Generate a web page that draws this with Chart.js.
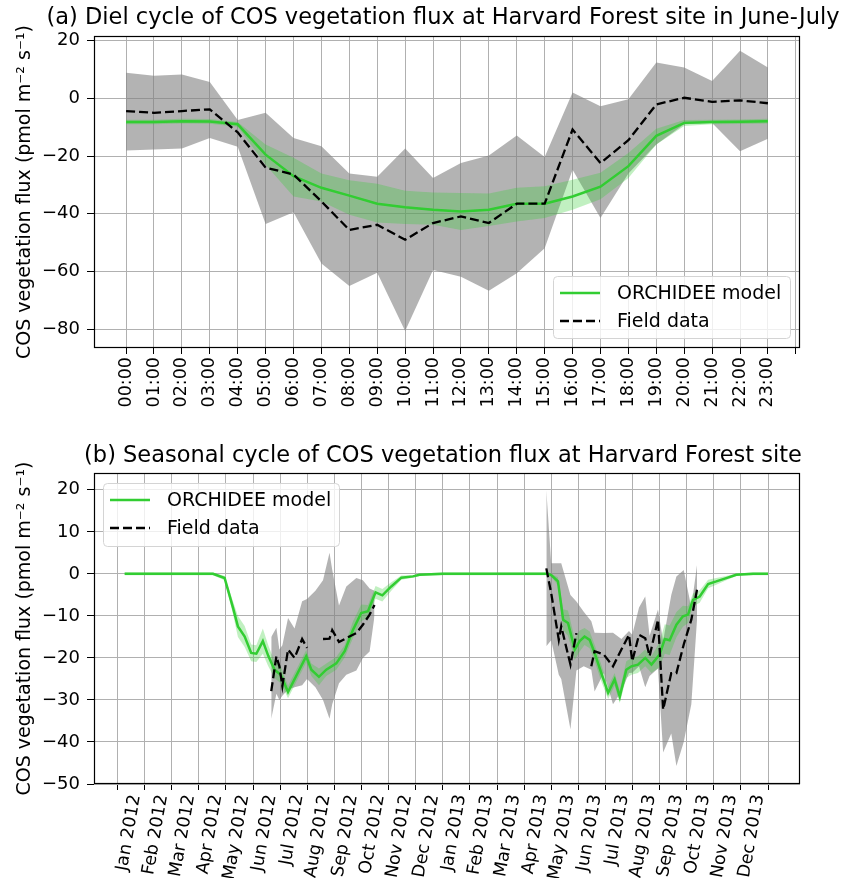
<!DOCTYPE html>
<html>
<head>
<meta charset="utf-8">
<script src="https://cdn.jsdelivr.net/npm/chart.js@4.4.1/dist/chart.umd.min.js"></script>
<style>
  body { margin: 0; background: #fff; }
  #wrap { position: relative; width: 845px; height: 878px; }
  canvas { position: absolute; left: 0; }
</style>
</head>
<body>
<div id="wrap">
  <canvas id="dielChart" width="845" height="430" style="top:0"></canvas>
  <canvas id="seasonChart" width="845" height="448" style="top:430px"></canvas>
</div>
<script>
// (a) diel cycle in June-July, one value per hour
const hours = ["00:00", "01:00", "02:00", "03:00", "04:00", "05:00", "06:00", "07:00",
  "08:00", "09:00", "10:00", "11:00", "12:00", "13:00", "14:00", "15:00",
  "16:00", "17:00", "18:00", "19:00", "20:00", "21:00", "22:00", "23:00"];
const dielModel = [-8.2, -8.2, -7.9, -8.0, -9.0, -19.5, -27, -31, -33.7, -36.5, -37.7, -38.6,
  -39.2, -38.6, -36.5, -36.5, -34, -30.6, -23.5, -13, -8.5, -8.2, -8.1, -7.9];
const dielModelHigh = [-7.4, -7.4, -7.1, -7.2, -8.2, -16, -20.6, -26, -28.4, -29.6, -32, -32.6,
  -32.8, -33, -31, -30.5, -28.2, -25.8, -18.9, -10.5, -7.5, -7.4, -7.3, -7.1];
const dielModelLow = [-9.0, -9.0, -8.7, -8.8, -9.8, -23, -34, -35.7, -40.3, -43, -43.5, -43.8,
  -45.6, -44.2, -42.7, -41.5, -38.6, -35, -27.6, -16, -9.6, -9.0, -8.9, -8.7];
const dielField = [-4.4, -5, -4.4, -3.8, -11.8, -24, -26.4, -35.7, -45.6, -43.8, -49, -43.2,
  -40.9, -43.2, -36.5, -36.5, -10.8, -22.4, -14.5, -2.1, 0.2, -1.2, -0.7, -1.7];
const dielFieldHigh = [8.9, 7.8, 8.3, 5.7, -7.5, -5, -13.7, -16.6, -26, -27.2, -17.4, -27.6,
  -22.4, -19.8, -12.9, -20.3, 2, -2.7, -0.3, 12.4, 10.7, 6, 16.5, 10.7];
const dielFieldLow = [-18.1, -17.7, -17.4, -13.7, -16.8, -43.5, -39.5, -57.2, -65, -60.4, -80.6, -59.5,
  -61.8, -66.7, -60.6, -51.9, -24.7, -41.5, -26, -16, -9, -8.5, -18.3, -14];
const dielTicksY = [20, 0, -20, -40, -60, -80];

// (b) seasonal cycle 2012-2013, x in months counted from Jan 2012
const months = ["Jan 2012", "Feb 2012", "Mar 2012", "Apr 2012", "May 2012", "Jun 2012",
  "Jul 2012", "Aug 2012", "Sep 2012", "Oct 2012", "Nov 2012", "Dec 2012",
  "Jan 2013", "Feb 2013", "Mar 2013", "Apr 2013", "May 2013", "Jun 2013",
  "Jul 2013", "Aug 2013", "Sep 2013", "Oct 2013", "Nov 2013", "Dec 2013"];
const seasonModelX = [0.26, 1, 2, 3, 3.52, 3.95, 4.26, 4.44, 4.69, 4.93, 5.12, 5.36, 5.56, 5.79,
  6.02, 6.29, 6.59, 6.96, 7.15, 7.43, 7.70, 8.07, 8.38, 8.68, 8.99, 9.24, 9.52, 9.77, 10.1,
  10.47, 10.9, 11.14, 12, 13, 14, 15, 15.88, 16.0, 16.25, 16.44, 16.62, 16.87, 17.05, 17.23,
  17.42, 17.6, 17.85, 18.1, 18.34, 18.53, 18.77, 18.96, 19.2, 19.47, 19.7, 20.0, 20.19, 20.37,
  20.62, 20.86, 21.05, 21.23, 21.48, 21.79, 22.09, 22.46, 22.83, 23.45, 24.0];
const seasonModel = [0, 0, 0, 0, 0, -1, -8.1, -12.5, -14.9, -18.8, -19, -16, -19.5, -22.8,
  -24, -28.1, -24.3, -19.6, -22.8, -24.5, -22.8, -21.3, -18.4, -13.4, -9.3, -8.9, -4.4, -5.1, -3.0,
  -0.9, -0.6, -0.2, 0, 0, 0, 0, 0, -0.3, -1.8, -10.9, -11.7, -18, -16, -14.9,
  -15.7, -18.8, -23.6, -28.3, -25.1, -29.2, -22.8, -22, -21.6, -20, -21.6, -19.2, -15.5, -15.8,
  -12.1, -10.1, -9.7, -6.2, -5.4, -2.4, -1.8, -1, -0.2, 0, 0];
const seasonModelSpread = [0.3, 0.3, 0.3, 0.3, 0.3, 0.5, 1.5, 2.5, 2.5, 2, 2, 3, 2.5, 2,
  2, 1.5, 1.5, 1.5, 1.5, 2, 1.5, 1.5, 1.5, 2, 2, 1.5, 1.5, 1.5, 1,
  0.5, 0.3, 0.3, 0.3, 0.3, 0.3, 0.3, 0.3, 0.3, 1, 2.5, 3, 2.5, 2.5, 2,
  2, 2, 2, 1.5, 1.5, 1.5, 2, 2, 2, 2, 2, 3, 3.5, 3.5,
  3, 2.5, 2, 1.5, 1.5, 1, 0.8, 0.5, 0.3, 0.3, 0.3];
const seasonFieldX = [5.67, 5.86, 5.97, 6.08, 6.29, 6.53, 6.81, 6.99, 7.3, 7.58, 7.82, 7.92, 8.17,
  8.44, 8.81, 9.05, 9.30, 9.48, 12.6,
  15.82, 16.0, 16.28, 16.37, 16.71, 16.93, 17.2, 17.48, 17.6, 17.94, 18.28, 18.59, 18.87, 18.99,
  19.24, 19.47, 19.63, 19.94, 20.13, 20.43, 20.62, 20.89, 21.17, 21.38];
const seasonField = [-27.9, -19.6, -22, -26.7, -18, -20, -15.5, -17.6, null, -15.5, -15.4, -13.4, -16.2,
  -15.3, -14.1, -12.1, -9.7, -7.4, null,
  1.3, -4.6, -15.7, -12.5, -21.6, -14.1, null, -22, -18.4, -19.2, -22, -18, -14.5, -20.8,
  -14.5, -15.3, -19.6, -10.9, -32.3, -23.6, -23.6, -16.8, -10.9, -3.8];
const seasonFieldHigh = [-15, -12.8, -18, -17, -10.5, -13, -6.5, -6, -4, -1.5, 5, 1, -7.5,
  -3, -1, -1.5, -3.5, -4, null,
  19.9, 2.5, 2.5, 2.5, -5, -6.6, -9, -11.3, -14, -14.1, -14, -15.5, -13.6, -14.5,
  -8, -5.4, -14.7, -8.5, -16, -5, -0.6, 0.9, -8, 2.1];
const seasonFieldLow = [-34.5, -28.5, -30, -29, -27.5, -27, -26.5, -25, -27, -30, -34.5, -31, -26,
  -24, -23, -20, -18.5, -10, null,
  -17.2, -15.8, -24, -25, -37, -23, -22, -22.8, -28, -23.6, -31, -28, -23.6, -23.5,
  -22, -27, -24.3, -22.5, -42.5, -38, -45.7, -40, -31, -10.9];
const seasonTicksY = [20, 10, 0, -10, -20, -30, -40, -50];

const legendLabels = ["ORCHIDEE model", "Field data"];

const FONT = "'DejaVu Sans', sans-serif";
const GREEN = "#32cd32";
const GREEN_FILL = "rgba(50,205,50,0.3)";
const GREY_FILL = "rgba(128,128,128,0.6)";
const NONE = "rgba(0,0,0,0)";
const YLABEL = "COS vegetation flux (pmol m\u207B\u00B2 s\u207B\u00B9)";

function pts(xs, ys) {
  return xs.map((x, i) => ({ x: x, y: ys[i] }));
}
function minus(v) {
  return v < 0 ? "\u2212" + Math.abs(v) : String(v);
}

// title centred over the axes
const panelTitle = {
  id: "panelTitle",
  afterDraw(chart, args, opts) {
    const ctx = chart.ctx, a = chart.chartArea;
    ctx.save();
    ctx.font = "22.5px " + FONT;
    ctx.fillStyle = "#000";
    ctx.textAlign = "center";
    ctx.textBaseline = "middle";
    ctx.fillText(opts.text, (a.left + a.right) / 2 + opts.dx, opts.y);
    ctx.restore();
  }
};

// matplotlib style box round the plot
const frame = {
  id: "frame",
  afterDatasetsDraw(chart) {
    const ctx = chart.ctx, a = chart.chartArea;
    ctx.save();
    ctx.strokeStyle = "#000";
    ctx.lineWidth = 1.2;
    ctx.strokeRect(Math.round(a.left) + 0.5, Math.round(a.top) + 0.5,
      Math.round(a.right - a.left) - 1, Math.round(a.bottom - a.top) - 1);
    ctx.restore();
  }
};

const boxLegend = {
  id: "boxLegend",
  afterDraw(chart, args, opts) {
    const ctx = chart.ctx;
    const x = opts.x + 0.5, y = opts.y + 0.5, w = opts.w, h = opts.h, r = 4;
    ctx.save();
    ctx.beginPath();
    ctx.moveTo(x + r, y);
    ctx.arcTo(x + w, y, x + w, y + h, r);
    ctx.arcTo(x + w, y + h, x, y + h, r);
    ctx.arcTo(x, y + h, x, y, r);
    ctx.arcTo(x, y, x + w, y, r);
    ctx.closePath();
    ctx.fillStyle = "rgba(255,255,255,0.8)";
    ctx.fill();
    ctx.strokeStyle = "#d4d4d4";
    ctx.lineWidth = 1;
    ctx.stroke();
    ctx.font = "19px " + FONT;
    ctx.textBaseline = "middle";
    legendLabels.forEach((lab, i) => {
      const d = chart.data.datasets.find(ds => ds.label === lab);
      const ry = Math.round(opts.y + 17 + i * 28);
      ctx.beginPath();
      ctx.setLineDash(d.borderDash || []);
      ctx.strokeStyle = d.borderColor;
      ctx.lineWidth = d.borderWidth;
      ctx.moveTo(opts.x + 7, ry);
      ctx.lineTo(opts.x + 47, ry);
      ctx.stroke();
      ctx.fillStyle = "#000";
      ctx.fillText(lab, opts.x + 64, ry + 1);
    });
    ctx.restore();
  }
};

function makeDatasets(xm, model, mHigh, mLow, xf, field, fHigh, fLow) {
  return [
    { label: "Field data", data: pts(xf, field), borderColor: "#000", borderWidth: 2.3,
      borderDash: [9, 4], fill: false, pointRadius: 0, spanGaps: false },
    { label: "ORCHIDEE model", data: pts(xm, model), borderColor: GREEN, borderWidth: 2.5,
      fill: false, pointRadius: 0 },
    { data: pts(xm, mHigh), borderColor: NONE, borderWidth: 0, backgroundColor: GREEN_FILL,
      fill: "+1", pointRadius: 0 },
    { data: pts(xm, mLow), borderColor: NONE, borderWidth: 0, fill: false, pointRadius: 0 },
    { data: pts(xf, fHigh), borderColor: NONE, borderWidth: 0, backgroundColor: GREY_FILL,
      fill: "+1", pointRadius: 0, spanGaps: false },
    { data: pts(xf, fLow), borderColor: NONE, borderWidth: 0, fill: false, pointRadius: 0,
      spanGaps: false }
  ];
}

function makeOptions(cfg) {
  return {
    responsive: false,
    animation: false,
    devicePixelRatio: 1,
    layout: { padding: { left: 0, right: 45, top: cfg.top, bottom: 0 } },
    elements: { line: { tension: 0 } },
    scales: {
      x: {
        type: "linear", bounds: "data", min: cfg.xMin, max: cfg.xMax,
        afterBuildTicks: s => { s.ticks = cfg.xTicks.map(v => ({ value: v })); },
        afterFit: s => { s.height = cfg.xHeight; },
        ticks: {
          autoSkip: false, minRotation: cfg.rot, maxRotation: cfg.rot,
          labelOffset: cfg.labelOffset, padding: 3, color: "#000",
          font: { family: FONT, size: 17.5 },
          callback: v => cfg.xLabels[v] || ""
        },
        grid: { color: "#b0b0b0", tickColor: "#000", tickLength: 6, lineWidth: 1 },
        border: { display: false }
      },
      y: {
        type: "linear", bounds: "data", min: cfg.yMin, max: cfg.yMax,
        afterBuildTicks: s => { s.ticks = cfg.yTicks.map(v => ({ value: v })); },
        afterFit: s => { s.width = 94; },
        ticks: { padding: 7, color: "#000", font: { family: FONT, size: 18 }, callback: v => minus(v) },
        grid: { color: "#b0b0b0", tickColor: "#000", tickLength: 7, lineWidth: 1 },
        border: { display: false },
        title: { display: true, text: YLABEL, color: "#000", font: { family: FONT, size: 19 },
          padding: { top: 14, bottom: 0 } }
      }
    },
    plugins: {
      legend: { display: false },
      title: { display: false },
      tooltip: { enabled: false },
      panelTitle: { text: cfg.title, y: cfg.titleY, dx: -4 },
      boxLegend: cfg.legend
    }
  };
}

const hourX = hours.map((h, i) => i);

new Chart(document.getElementById("dielChart"), {
  type: "line",
  data: { datasets: makeDatasets(hourX, dielModel, dielModelHigh, dielModelLow,
    hourX, dielField, dielFieldHigh, dielFieldLow) },
  options: makeOptions({
    top: 36, xMin: -1.15, xMax: 24.15, xTicks: hourX.concat(hours.length), xLabels: hours,
    rot: 90, labelOffset: 0, xHeight: 82, yMin: -86.5, yMax: 21.6, yTicks: dielTicksY,
    title: "(a) Diel cycle of COS vegetation flux at Harvard Forest site in June-July", titleY: 18,
    legend: { x: 553, y: 276, w: 237, h: 62 }
  }),
  plugins: [frame, panelTitle, boxLegend]
});

new Chart(document.getElementById("seasonChart"), {
  type: "line",
  data: { datasets: makeDatasets(seasonModelX, seasonModel,
    seasonModel.map((v, i) => v + seasonModelSpread[i]),
    seasonModel.map((v, i) => v - seasonModelSpread[i]),
    seasonFieldX, seasonField, seasonFieldHigh, seasonFieldLow) },
  options: makeOptions({
    top: 43, xMin: -0.87, xMax: 25.18, xTicks: months.map((m, i) => i).concat(months.length),
    xLabels: months, rot: 80, labelOffset: 18, xHeight: 94, yMin: -50, yMax: 24,
    yTicks: seasonTicksY,
    title: "(b) Seasonal cycle of COS vegetation flux at Harvard Forest site", titleY: 26,
    legend: { x: 103, y: 53, w: 236, h: 63 }
  }),
  plugins: [frame, panelTitle, boxLegend]
});
</script>
</body>
</html>
